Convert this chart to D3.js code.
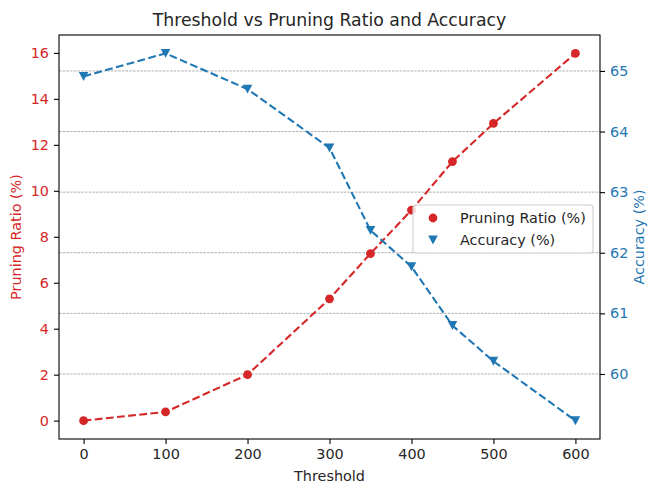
<!DOCTYPE html>
<html>
<head>
<meta charset="utf-8">
<script src="https://cdn.jsdelivr.net/npm/d3@7"></script>
<style>
  body { margin: 0; background: #fff; }
  svg { font-family: "DejaVu Sans", sans-serif; }
</style>
</head>
<body>
<svg width="654" height="484"></svg>
<script>
const thresholds = [0, 100, 200, 300, 350, 400, 450, 500, 600];
const pruningRatio = [0, 0.38, 2.0, 5.3, 7.27, 9.16, 11.27, 12.93, 15.98];
const accuracy = [64.91, 65.29, 64.70, 63.73, 62.37, 61.77, 60.80, 60.21, 59.23];
const xTicks = [0, 100, 200, 300, 400, 500, 600];
const leftTicks = [0, 2, 4, 6, 8, 10, 12, 14, 16];
const rightTicks = [60, 61, 62, 63, 64, 65];

const red = "#d62728", blue = "#1f77b4";
const svg = d3.select("svg");
const m = {left: 59, right: 600, top: 35, bottom: 439};

// matplotlib style 5% padding around the data
function padded(vals) {
  const [lo, hi] = d3.extent(vals);
  const p = (hi - lo) * 0.05;
  return [lo - p, hi + p];
}

const x = d3.scaleLinear().domain(padded(thresholds)).range([m.left, m.right]);
const yL = d3.scaleLinear().domain(padded(pruningRatio)).range([m.bottom, m.top]);
const yR = d3.scaleLinear().domain(padded(accuracy)).range([m.bottom, m.top]);

// grid from the accuracy axis
svg.append("g")
  .selectAll("line")
  .data(rightTicks)
  .join("line")
    .attr("x1", m.left).attr("x2", m.right)
    .attr("y1", d => yR(d)).attr("y2", d => yR(d))
    .attr("stroke", "#8c8c8c")
    .attr("stroke-width", 0.7)
    .attr("stroke-dasharray", "2.6,1.1");

function drawSeries(vals, y, color, shape) {
  const line = d3.line().x((d, i) => x(thresholds[i])).y(d => y(d));
  svg.append("path")
    .datum(vals)
    .attr("d", line)
    .attr("fill", "none")
    .attr("stroke", color)
    .attr("stroke-width", 2.1)
    .attr("stroke-dasharray", "7.8,3.4");
  svg.append("g")
    .selectAll("path")
    .data(vals)
    .join("path")
      .attr("transform", (d, i) => `translate(${x(thresholds[i])},${y(d)})`)
      .attr("d", shape)
      .attr("fill", color);
}

const circle = d3.symbol().type(d3.symbolCircle).size(Math.PI * 4.4 * 4.4)();
const triDown = "M-4.8,-4.4L4.8,-4.4L0,4.5Z";

drawSeries(pruningRatio, yL, red, circle);
drawSeries(accuracy, yR, blue, triDown);

// axes
const fs = "14.4px";
const gx = svg.append("g")
  .attr("transform", `translate(0,${m.bottom})`)
  .call(d3.axisBottom(x).tickValues(xTicks).tickSize(5).tickPadding(5).tickFormat(d3.format("d")));
const gl = svg.append("g")
  .attr("transform", `translate(${m.left},0)`)
  .call(d3.axisLeft(yL).tickValues(leftTicks).tickSize(5).tickPadding(5).tickFormat(d3.format("d")));
const gr = svg.append("g")
  .attr("transform", `translate(${m.right},0)`)
  .call(d3.axisRight(yR).tickValues(rightTicks).tickSize(5).tickPadding(5).tickFormat(d3.format("d")));

[gx, gl, gr].forEach(g => {
  g.selectAll(".domain").remove();
  g.selectAll(".tick line").attr("stroke", "#000").attr("stroke-width", 1.1);
  g.selectAll(".tick text").attr("font-size", fs).attr("font-family", "DejaVu Sans");
});
gx.selectAll(".tick text").attr("fill", "#262626");
gl.selectAll(".tick text").attr("fill", red);
gr.selectAll(".tick text").attr("fill", blue);

// frame
svg.append("rect")
  .attr("x", m.left).attr("y", m.top)
  .attr("width", m.right - m.left).attr("height", m.bottom - m.top)
  .attr("fill", "none").attr("stroke", "#000").attr("stroke-width", 1.1);

// labels
svg.append("text")
  .attr("x", (m.left + m.right) / 2).attr("y", 26)
  .attr("text-anchor", "middle").attr("font-size", "17.3px").attr("fill", "#262626")
  .text("Threshold vs Pruning Ratio and Accuracy");
svg.append("text")
  .attr("x", (m.left + m.right) / 2).attr("y", 481)
  .attr("text-anchor", "middle").attr("font-size", fs).attr("fill", "#262626")
  .text("Threshold");
svg.append("text")
  .attr("transform", `translate(21,${(m.top + m.bottom) / 2}) rotate(-90)`)
  .attr("text-anchor", "middle").attr("font-size", fs).attr("fill", red)
  .text("Pruning Ratio (%)");
svg.append("text")
  .attr("transform", `translate(644,${(m.top + m.bottom) / 2}) rotate(-90)`)
  .attr("text-anchor", "middle").attr("font-size", fs).attr("fill", blue)
  .text("Accuracy (%)");

// legend
const legend = svg.append("g").attr("transform", "translate(413,205)");
legend.append("rect")
  .attr("width", 180).attr("height", 48).attr("rx", 3)
  .attr("fill", "#fff").attr("fill-opacity", 0.8)
  .attr("stroke", "#d0d0d0").attr("stroke-width", 1.1);
const items = [
  {label: "Pruning Ratio (%)", color: red, shape: circle},
  {label: "Accuracy (%)", color: blue, shape: triDown}
];
items.forEach((d, i) => {
  const row = legend.append("g").attr("transform", `translate(0,${13 + i * 22})`);
  row.append("path").attr("transform", "translate(20,0)").attr("d", d.shape).attr("fill", d.color);
  row.append("text").attr("x", 47).attr("y", 5).attr("font-size", fs).attr("fill", "#262626").text(d.label);
});
</script>
</body>
</html>
